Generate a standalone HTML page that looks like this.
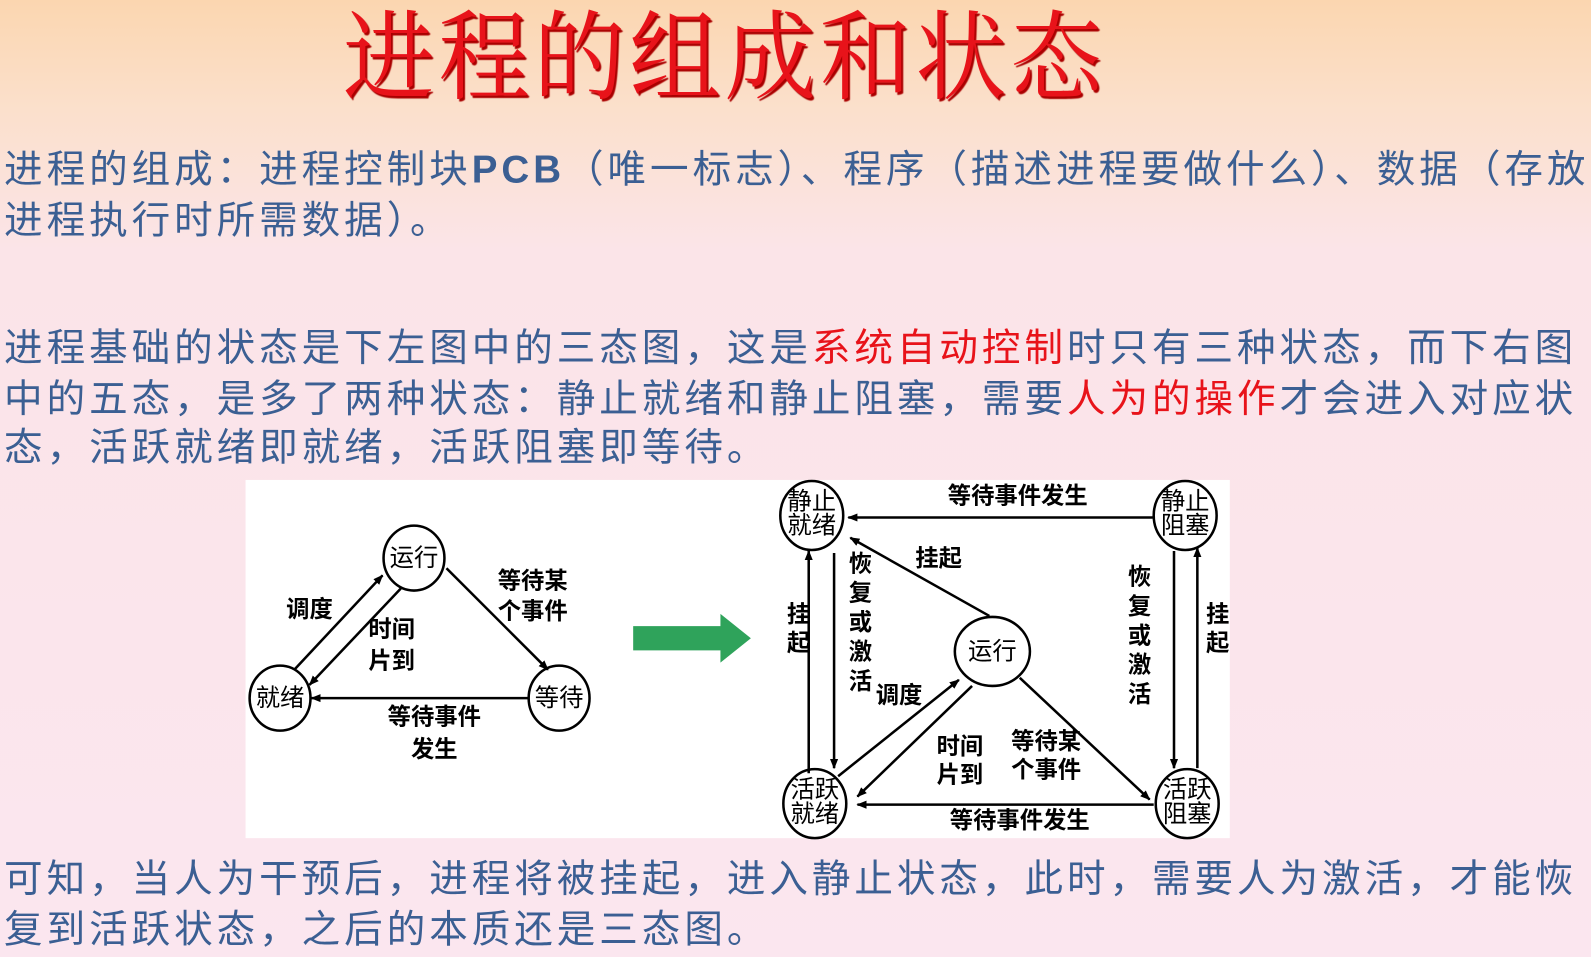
<!DOCTYPE html>
<html><head><meta charset="utf-8"><style>
html,body{margin:0;padding:0}
body{width:1591px;height:957px;overflow:hidden;position:relative;
background:linear-gradient(180deg,#fbd6b0 0px,#fbe0cc 110px,#fbe4e8 250px,#fbe6ef 957px);
font-family:"Liberation Sans","Noto Sans CJK SC",sans-serif;}
#w{position:absolute;left:0;top:0;width:1568px;height:943px;transform:scale(1.0147);transform-origin:0 0}
.t{position:absolute;left:338px;top:-21px;font-family:"Liberation Serif","Noto Serif CJK SC",serif;font-size:90px;color:#e8131a;letter-spacing:4px;white-space:nowrap;text-shadow:2px 2px 1px #a00;transform:scaleY(1.07);transform-origin:top left}
.p{position:absolute;left:4px;font-size:38px;color:#3b5f93;white-space:nowrap;letter-spacing:3.9px}
.r{color:#e8131a}
.b{font-weight:bold}
</style></head><body><div id="w">
<div class="t">进程的组成和状态</div>
<div class="p" style="top:136px">进程的组成：进程控制块<span class="b">PCB</span>（唯一标志）、程序（描述进程要做什么）、数据（存放</div>
<div class="p" style="top:186px">进程执行时所需数据）。</div>
<div class="p" style="top:312px">进程基础的状态是下左图中的三态图，这是<span class="r">系统自动控制</span>时只有三种状态，而下右图</div>
<div class="p" style="top:362px">中的五态，是多了两种状态：静止就绪和静止阻塞，需要<span class="r">人为的操作</span>才会进入对应状</div>
<div class="p" style="top:410px">态，活跃就绪即就绪，活跃阻塞即等待。</div>
<div class="p" style="top:835px">可知，当人为干预后，进程将被挂起，进入静止状态，此时，需要人为激活，才能恢</div>
<div class="p" style="top:885px">复到活跃状态，之后的本质还是三态图。</div>
<svg style="position:absolute;left:0;top:0" width="1568" height="943" font-family="Liberation Sans,Noto Sans CJK SC,sans-serif" font-size="23" font-weight="bold">
<defs><marker id="a" markerWidth="10" markerHeight="10" refX="9" refY="5" orient="auto" markerUnits="userSpaceOnUse"><path d="M0,1 L10,5 L0,9z" fill="#000"/></marker></defs>
<rect x="242" y="473" width="970" height="353" fill="#fff"/>
<g fill="#fff" stroke="#000" stroke-width="2.5">
<ellipse cx="408" cy="550" rx="30" ry="32"/>
<ellipse cx="276" cy="688" rx="30" ry="32"/>
<ellipse cx="551" cy="688" rx="30" ry="32"/>
<ellipse cx="800" cy="508" rx="31" ry="34"/>
<ellipse cx="1168" cy="508" rx="31" ry="34"/>
<ellipse cx="978" cy="642" rx="37" ry="34"/>
<ellipse cx="803" cy="792" rx="31" ry="34"/>
<ellipse cx="1170" cy="792" rx="31" ry="34"/>
</g>
<g stroke="#000" stroke-width="2.5" marker-end="url(#a)">
<line x1="290" y1="660" x2="377" y2="567"/>
<line x1="395" y1="580" x2="305" y2="675"/>
<line x1="440" y1="560" x2="540" y2="660"/>
<line x1="520" y1="688" x2="307" y2="688"/>
<line x1="1136" y1="510" x2="836" y2="510"/>
<line x1="797" y1="762" x2="797" y2="543"/>
<line x1="822" y1="545" x2="822" y2="757"/>
<line x1="975" y1="607" x2="838" y2="530"/>
<line x1="826" y1="765" x2="945" y2="670"/>
<line x1="958" y1="676" x2="845" y2="785"/>
<line x1="1005" y1="668" x2="1133" y2="788"/>
<line x1="1137" y1="793" x2="845" y2="793"/>
<line x1="1157" y1="543" x2="1157" y2="757"/>
<line x1="1180" y1="757" x2="1180" y2="540"/>
</g>
<polygon points="624,617 710,617 710,605 740,629 710,653 710,641 624,641" fill="#2fa35b"/>
<g text-anchor="middle" fill="#000" font-weight="normal" font-size="24">
<text x="408" y="558">运行</text><text x="276" y="696">就绪</text><text x="551" y="696">等待</text>
<text x="800" y="502">静止</text><text x="800" y="526">就绪</text>
<text x="1168" y="502">静止</text><text x="1168" y="526">阻塞</text>
<text x="978" y="650">运行</text>
<text x="803" y="786">活跃</text><text x="803" y="810">就绪</text>
<text x="1170" y="786">活跃</text><text x="1170" y="810">阻塞</text>
</g>
<g text-anchor="middle" fill="#000">
<text x="305" y="608">调度</text>
<text x="386" y="628">时间</text><text x="386" y="659">片到</text>
<text x="525" y="580">等待某</text><text x="525" y="610">个事件</text>
<text x="428" y="714">等待事件</text><text x="428" y="746">发生</text>
<text x="1003" y="496">等待事件发生</text>
<text x="787" y="613">挂</text><text x="787" y="641">起</text>
<text x="848" y="563">恢</text><text x="848" y="592">复</text><text x="848" y="621">或</text><text x="848" y="650">激</text><text x="848" y="679">活</text>
<text x="925" y="558">挂起</text>
<text x="886" y="693">调度</text>
<text x="946" y="743">时间</text><text x="946" y="771">片到</text>
<text x="1031" y="738">等待某</text><text x="1031" y="766">个事件</text>
<text x="1005" y="816">等待事件发生</text>
<text x="1123" y="576">恢</text><text x="1123" y="605">复</text><text x="1123" y="634">或</text><text x="1123" y="663">激</text><text x="1123" y="692">活</text>
<text x="1200" y="613">挂</text><text x="1200" y="641">起</text>
</g>
</svg>
</div></body></html>
